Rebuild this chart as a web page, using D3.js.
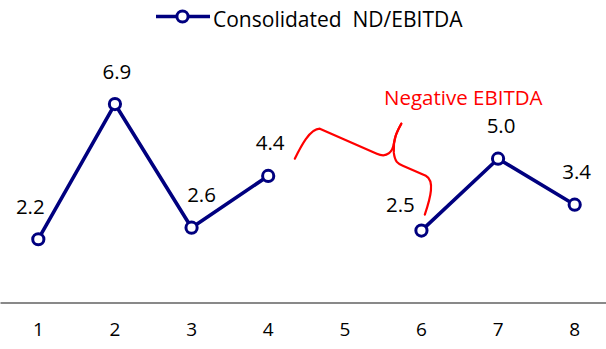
<!DOCTYPE html>
<html>
<head>
<meta charset="utf-8">
<script src="https://cdn.jsdelivr.net/npm/d3@7/dist/d3.min.js"></script>
<style>
  html, body { margin: 0; padding: 0; background: #fff; }
  svg { display: block; }
  text { font-family: "Open Sans", sans-serif; }
</style>
</head>
<body>
<svg id="chart" width="606" height="349"></svg>
<script>
// Periods on the category axis
const periods = ["1", "2", "3", "4", "5", "6", "7", "8"];
// Consolidated net debt / EBITDA; period 5 has negative EBITDA, so no ratio
const ndEbitda = [2.2, 6.9, 2.6, 4.4, null, 2.5, 5.0, 3.4];
// Horizontal / vertical nudges for the value labels so they clear the line
const labelDx = [-8, 2, 10, 2, 0, -21, 3, 2];
const labelDy = [0, 0, 0, 0, 0, 7, 0, 0];
const seriesName = "Consolidated  ND/EBITDA";
const noteText = "Negative EBITDA";

const W = 606, H = 349;
const navy = "#00007f";
const svg = d3.select("#chart");

const x = d3.scaleBand().domain(periods).range([0, 613]).padding(0);
const y = d3.scaleLinear().domain([0, 10]).range([302.5, 14.9]);
const cx = p => x(p) + x.bandwidth() / 2;

const data = periods.map((p, i) => ({ p, v: ndEbitda[i], dx: labelDx[i], dy: labelDy[i] }));

// Category axis at zero
const axis = d3.axisBottom(x).tickSize(0).tickPadding(20);
const gAxis = svg.append("g").attr("transform", `translate(0,${y(0)})`).call(axis);
gAxis.select(".domain").attr("stroke", "#898989").attr("stroke-width", 2.2);
gAxis.selectAll(".tick text")
  .attr("font-family", "Open Sans, sans-serif")
  .attr("font-size", 19)
  .attr("fill", "#000");

// Line with a gap where EBITDA is negative
const line = d3.line().defined(d => d.v != null).x(d => cx(d.p)).y(d => y(d.v));
svg.append("path").datum(data)
  .attr("d", line)
  .attr("fill", "none")
  .attr("stroke", navy)
  .attr("stroke-width", 3.6)
  .attr("stroke-linejoin", "round");

const pts = data.filter(d => d.v != null);
svg.selectAll("circle.pt").data(pts).join("circle")
  .attr("class", "pt")
  .attr("cx", d => cx(d.p))
  .attr("cy", d => y(d.v))
  .attr("r", 5.6)
  .attr("fill", "#fff")
  .attr("stroke", navy)
  .attr("stroke-width", 3);

svg.selectAll("text.val").data(pts).join("text")
  .attr("class", "val")
  .attr("x", d => cx(d.p) + d.dx)
  .attr("y", d => y(d.v) - 25.5 + d.dy)
  .attr("text-anchor", "middle")
  .attr("font-size", 20.5)
  .attr("fill", "#000")
  .text(d => d.v.toFixed(1));

// Brace spanning the missing period, anchored on period 5
const ax = cx("5"), ay = y(5);
const brace = svg.append("g").attr("transform", `translate(${ax},${ay})`)
  .attr("fill", "none").attr("stroke", "#ff0000").attr("stroke-width", 2.2)
  .attr("stroke-linecap", "round").attr("stroke-linejoin", "round");
brace.append("path").attr("d",
  "M-50,0 C-44,-12 -35,-30 -25,-30 L32,-5 C43,0 48,-8 49,-15 C50,-23 53,-29 56.5,-35");
brace.append("path").attr("d",
  "M56.5,-35 C52,-27 48,-19 49,-6 C50,3 53,5 58,7 L81,17 C90,22 86,38 80,56");

svg.append("text")
  .attr("x", 384).attr("y", 105)
  .attr("font-size", 20.5)
  .attr("fill", "#ff0000")
  .text(noteText);

// Legend
const lg = svg.append("g").attr("transform", "translate(0,16.5)");
lg.append("line").attr("x1", 156).attr("x2", 210).attr("y1", 0).attr("y2", 0)
  .attr("stroke", navy).attr("stroke-width", 3.6);
lg.append("circle").attr("cx", 182.5).attr("cy", 0).attr("r", 5.6)
  .attr("fill", "#fff").attr("stroke", navy).attr("stroke-width", 3);
lg.append("text").attr("x", 213).attr("y", 10)
  .attr("font-size", 21)
  .attr("fill", "#000")
  .style("white-space", "pre")
  .text(seriesName);
</script>
</body>
</html>
